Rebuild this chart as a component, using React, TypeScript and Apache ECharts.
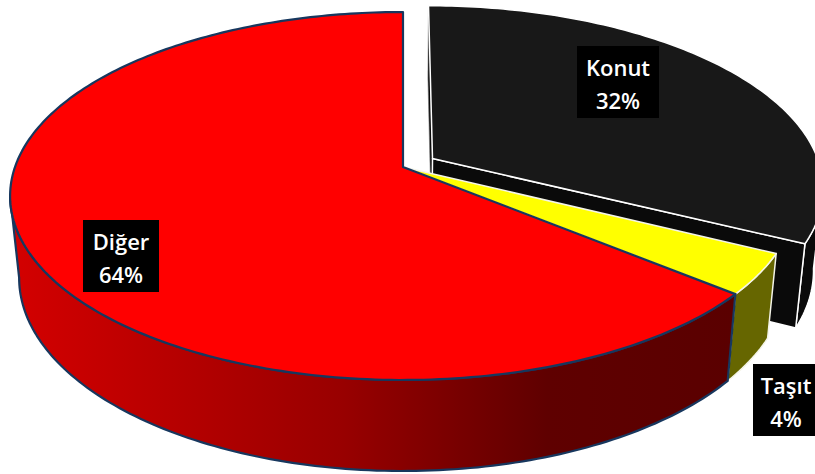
import React, { useEffect, useRef } from "react";
import * as echarts from "echarts";

const categories = ["Konut", "Taşıt", "Diğer"];
const shares = [32.4, 3.6, 64.0];
const exploded = [0.09, 0, 0];

// Perspective model of the pie disc (circle -> projected ellipse)
const CX = 403;
const APEX_Y = 167;
const RX = 388;
const PY = -153.1;
const PW = 0.1576;
// The underside of the disc relative to its top
const UNDER_X = 0.977;
const UNDER_Y = 1.05;
const UNDER_DY = 72;
// Angles (clockwise from 12 o'clock) between which the side wall faces the viewer
const WALL_FROM = 99;
const WALL_TO = 261;

const labelBoxes = [
  { x: 577, y: 46, w: 82, h: 72 },
  { x: 753, y: 364, w: 66, h: 72 },
  { x: 83, y: 220, w: 76, h: 72 },
];

const sliceStyles = [
  { top: "#181818", wall: "#0a0a0a", stroke: "#ffffff", width: 1.5 },
  { top: "#ffff00", wall: "#666600", stroke: "#f4f4e8", width: 1.5 },
  { top: "#ff0000", wall: null, stroke: "#17375e", width: 2.2 },
];

const redWall = [
  { offset: 0, color: "#d40000" },
  { offset: 0.46, color: "#980000" },
  { offset: 0.74, color: "#5f0000" },
  { offset: 1, color: "#5a0000" },
];

const rad = (d: number) => (d * Math.PI) / 180;

function project(u: number, v: number) {
  const w = 1 + PW * v;
  return [CX + (RX * u) / w, (PY * v + APEX_Y) / w];
}
function under(p: number[]) {
  return [CX + UNDER_X * (p[0] - CX), p[1] * UNDER_Y + UNDER_DY];
}
function rim(deg: number, du: number, dv: number) {
  return project(Math.sin(rad(deg)) + du, Math.cos(rad(deg)) + dv);
}
function arc(a: number, b: number, du: number, dv: number) {
  const pts: number[][] = [];
  const n = Math.max(2, Math.ceil(Math.abs(b - a) / 1));
  for (let i = 0; i <= n; i++) pts.push(rim(a + ((b - a) * i) / n, du, dv));
  return pts;
}

const total = shares.reduce((s, v) => s + v, 0);

function renderItem(params: any, api: any) {
  const i = params.dataIndex;
  const value = api.value(0);
  let before = 0;
  for (let k = 0; k < i; k++) before += shares[k];
  const a = (before / total) * 360;
  const b = a + (value / total) * 360;
  const mid = (a + b) / 2;
  const du = exploded[i] * Math.sin(rad(mid));
  const dv = exploded[i] * Math.cos(rad(mid));
  const st = sliceStyles[i];
  const apex = project(du, dv);
  const top = arc(a, b, du, dv);
  const children: any[] = [];
  const wallStyle = (fill: any) => ({ fill, stroke: st.stroke, lineWidth: st.width, lineJoin: "round" });

  if (exploded[i] > 0) {
    children.push({
      type: "polygon",
      shape: { points: [apex, top[0], under(top[0]), under(apex)] },
      style: { fill: st.wall, stroke: "#777777", lineWidth: 0.6 },
    });
  }
  const wa = Math.max(a, WALL_FROM);
  const wb = Math.min(b, WALL_TO);
  if (wb > wa) {
    const wt = arc(wa, wb, du, dv);
    const fill = st.wall || new echarts.graphic.LinearGradient(0, 0, 1, 0, redWall);
    children.push({
      type: "polygon",
      shape: { points: wt.concat(wt.map(under).reverse()) },
      style: wallStyle(fill),
    });
  }
  if (exploded[i] > 0) {
    const end = top[top.length - 1];
    children.push({
      type: "polygon",
      shape: { points: [apex, end, under(end), under(apex)] },
      style: wallStyle(st.wall),
    });
  }
  children.push({
    type: "polygon",
    shape: { points: [apex].concat(top) },
    style: { fill: st.top, stroke: st.stroke, lineWidth: st.width, lineJoin: "round" },
  });
  const box = labelBoxes[i];
  children.push({
    type: "rect",
    z2: 50,
    shape: { x: box.x, y: box.y, width: box.w, height: box.h },
    style: { fill: "#000000" },
  });
  children.push({
    type: "text",
    z2: 51,
    x: box.x + box.w / 2,
    y: box.y + box.h / 2 + 1.5,
    style: {
      text: categories[i] + "\n" + Math.round(value) + "%",
      fill: "#ffffff",
      font: "600 22px 'Open Sans'",
      lineHeight: 33,
      align: "center",
      verticalAlign: "middle",
    },
  });
  return { type: "group", children };
}

export default function App() {
  const ref = useRef<HTMLDivElement>(null);
  useEffect(() => {
    document.body.style.margin = "0";
    const chart = echarts.init(ref.current!, null, { renderer: "svg" });
    chart.setOption({
      animation: false,
      backgroundColor: "#ffffff",
      series: [
        {
          type: "custom",
          coordinateSystem: "none",
          renderItem,
          clip: false,
          silent: true,
          data: shares.map((v, i) => ({ name: categories[i], value: [v] })),
        },
      ],
    });
    return () => chart.dispose();
  }, []);
  return <div ref={ref} style={{ width: 815, height: 474, overflow: "hidden" }} />;
}
